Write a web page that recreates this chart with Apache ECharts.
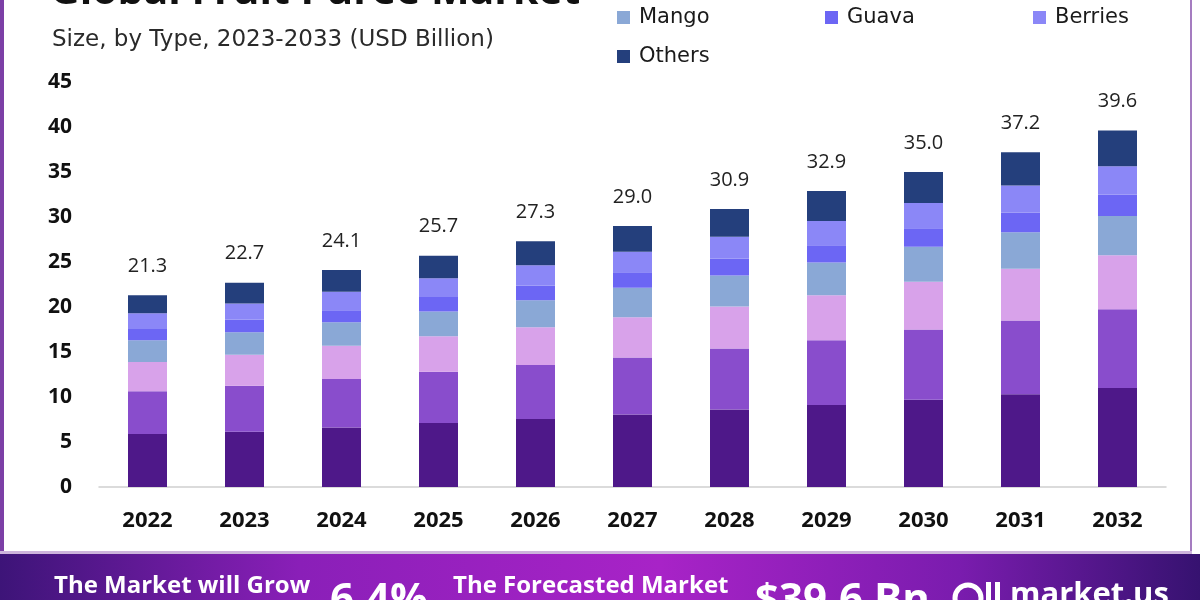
<!DOCTYPE html>
<html>
<head>
<meta charset="utf-8">
<script src="https://cdn.jsdelivr.net/npm/echarts@6/dist/echarts.min.js"></script>
<style>
  html, body { margin: 0; padding: 0; background: #ffffff; }
  #chart { width: 1200px; height: 600px; }
</style>
</head>
<body>
<div id="chart"></div>
<script>
// ---- Data ----
const years = ['2022','2023','2024','2025','2026','2027','2028','2029','2030','2031','2032'];
const totals = [21.3, 22.7, 24.1, 25.7, 27.3, 29.0, 30.9, 32.9, 35.0, 37.2, 39.6];
const seriesNames = ['Apple', 'Banana', 'Peach', 'Mango', 'Guava', 'Berries', 'Others'];
const apple   = [5.9, 6.15, 6.6, 7.1, 7.55, 8.05, 8.6, 9.1, 9.7, 10.3, 11.0];
const banana  = [4.75, 5.1, 5.4, 5.7, 6.0, 6.35, 6.8, 7.2, 7.8, 8.2, 8.75];
const peach   = [3.25, 3.45, 3.7, 3.95, 4.2, 4.45, 4.65, 5.0, 5.3, 5.75, 6.0];
const mango   = [2.4, 2.5, 2.6, 2.75, 3.0, 3.3, 3.45, 3.65, 3.9, 4.05, 4.35];
const guava   = [1.25, 1.4, 1.35, 1.6, 1.65, 1.7, 1.9, 1.9, 2.05, 2.2, 2.4];
const berries = [1.75, 1.8, 2.05, 2.1, 2.25, 2.3, 2.4, 2.7, 2.8, 3.0, 3.15];
const others  = [2.0, 2.3, 2.4, 2.5, 2.65, 2.85, 3.1, 3.35, 3.45, 3.7, 3.95];
const yTicks = [0, 5, 10, 15, 20, 25, 30, 35, 40, 45];
const colors = ['#4e1889', '#894dcc', '#d8a2ea', '#8aa8d6', '#6c66f4', '#8b87f7', '#243f7c'];

const values = [apple, banana, peach, mango, guava, berries, others];
const FONT = 'Open Sans, Lato, sans-serif';
const WIDE = 'DejaVu Sans, Open Sans, sans-serif';

const series = seriesNames.map((name, i) => {
  const s = {
    name: name,
    type: 'bar',
    stack: 'total',
    barWidth: 39,
    data: values[i],
    itemStyle: { color: colors[i] },
    emphasis: { disabled: true }
  };
  if (i === seriesNames.length - 1) {
    s.label = {
      show: true,
      position: 'top',
      distance: 19,
      formatter: p => totals[p.dataIndex].toFixed(1),
      fontFamily: FONT,
      fontSize: 20,
      color: '#222222'
    };
  }
  return s;
});

const legendItems = [
  { name: 'Mango', left: 612, top: 2 },
  { name: 'Guava', left: 820, top: 2 },
  { name: 'Berries', left: 1028, top: 2 },
  { name: 'Others', left: 612, top: 41 }
];
const legends = legendItems.map(it => ({
  data: [it.name],
  left: it.left,
  top: it.top,
  itemWidth: 13,
  itemHeight: 13,
  itemGap: 10,
  icon: 'rect',
  textStyle: { fontFamily: WIDE, fontSize: 21, color: '#1a1a1a', padding: [0, 0, 0, 4] }
}));

const chart = echarts.init(document.getElementById('chart'), null, { renderer: 'canvas' });
chart.setOption({
  backgroundColor: '#ffffff',
  animation: false,
  legend: legends,
  grid: { left: 99, right: 34, top: 82, bottom: 113, containLabel: false },
  xAxis: {
    type: 'category',
    data: years,
    axisLine: { show: true, lineStyle: { color: '#cfcfcf', width: 1.5 } },
    axisTick: { show: false },
    axisLabel: { fontFamily: FONT, fontWeight: 'bold', fontSize: 22, color: '#111111', margin: 23 }
  },
  yAxis: {
    type: 'value',
    min: yTicks[0],
    max: yTicks[yTicks.length - 1],
    interval: 5,
    axisLine: { show: false },
    axisTick: { show: false },
    splitLine: { show: false },
    axisLabel: { fontFamily: FONT, fontWeight: 'bold', fontSize: 21, color: '#111111', margin: 27 }
  },
  series: series,
  graphic: [
    // title (cropped at top)
    { type: 'text', x: 50, y: 13, z: 10,
      style: { text: 'Global Fruit Puree Market', font: 'bold 41px ' + FONT, fill: '#111111', verticalAlign: 'bottom' } },
    { type: 'text', x: 52, y: 40, z: 10,
      style: { text: 'Size, by Type, 2023-2033 (USD Billion)', font: '23px ' + WIDE, fill: '#2a2a2a', verticalAlign: 'middle' } },
    // card borders
    { type: 'rect', shape: { x: 0, y: 0, width: 4, height: 556 }, style: { fill: '#7c3fa6' }, z: 5 },
    { type: 'rect', shape: { x: 1190, y: 0, width: 2, height: 556 }, style: { fill: '#a57cc0' }, z: 5 },
    { type: 'rect', shape: { x: 0, y: 551, width: 1192, height: 3 }, style: { fill: '#cdb4dc' }, z: 5 },
    // bottom banner
    { type: 'rect', shape: { x: 0, y: 554, width: 1200, height: 46 }, z: 5,
      style: { fill: new echarts.graphic.LinearGradient(0, 0, 1, 0, [
        { offset: 0, color: '#3d1478' },
        { offset: 0.25, color: '#8a1fb8' },
        { offset: 0.55, color: '#a823c7' },
        { offset: 0.8, color: '#7a1cae' },
        { offset: 1, color: '#361270' }
      ]) } },
    { type: 'text', x: 54, y: 586, z: 10,
      style: { text: 'The Market will Grow', font: 'bold 24px ' + FONT, fill: '#ffffff', verticalAlign: 'middle' } },
    { type: 'text', x: 330, y: 580, z: 10,
      style: { text: '6.4%', font: 'bold 42px ' + FONT, fill: '#ffffff', verticalAlign: 'top' } },
    { type: 'text', x: 453, y: 586, z: 10,
      style: { text: 'The Forecasted Market', font: 'bold 24px ' + FONT, fill: '#ffffff', verticalAlign: 'middle' } },
    { type: 'text', x: 755, y: 580, z: 10,
      style: { text: '$39.6 Bn', font: 'bold 42px ' + FONT, fill: '#ffffff', verticalAlign: 'top' } },
    { type: 'circle', shape: { cx: 968, cy: 598, r: 13 }, z: 10,
      style: { fill: 'none', stroke: '#ffffff', lineWidth: 5 } },
    { type: 'rect', shape: { x: 986, y: 582, width: 5, height: 20 }, style: { fill: '#ffffff' }, z: 10 },
    { type: 'rect', shape: { x: 995, y: 582, width: 5, height: 20 }, style: { fill: '#ffffff' }, z: 10 },
    { type: 'text', x: 1010, y: 580, z: 10,
      style: { text: 'market.us', font: 'bold 31px ' + FONT, fill: '#ffffff', verticalAlign: 'top' } }
  ]
});
</script>
</body>
</html>
